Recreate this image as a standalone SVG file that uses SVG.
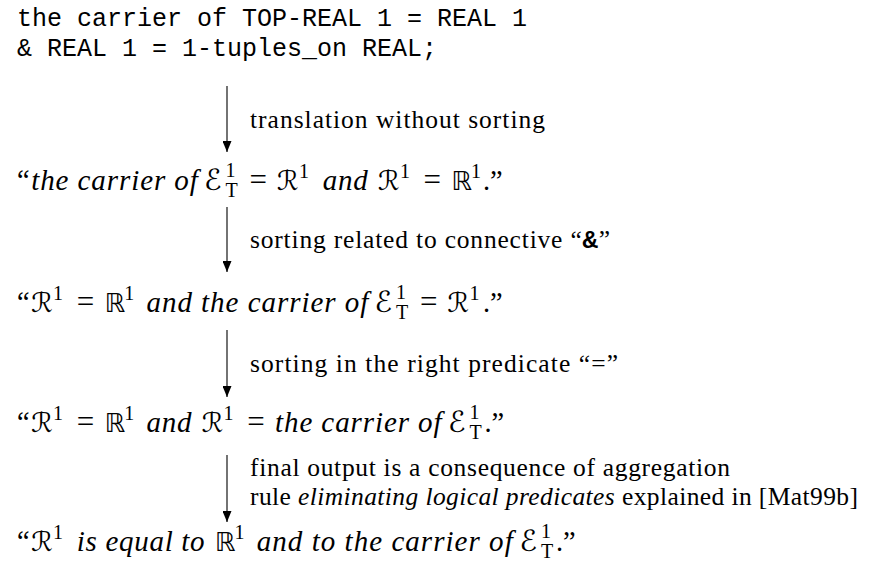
<svg xmlns="http://www.w3.org/2000/svg" width="874" height="569" viewBox="0 0 874 569">
<style>
.tt{font-family:"Liberation Mono",monospace;font-size:25px;fill:#000}
.rm{font-family:"Liberation Serif",serif;font-size:28.4px;fill:#000}
.it{font-family:"Liberation Serif",serif;font-size:29px;font-style:italic;fill:#000}
.eq{font-family:"Liberation Serif",serif;font-size:31px;fill:#000;text-anchor:middle}
.cal{font-family:"DejaVu Serif","DejaVu Sans",serif;font-size:27px;fill:#000}
.ce{font-family:"DejaVu Serif","DejaVu Sans",serif;font-size:29px;fill:#000}
.bb{font-family:"DejaVu Sans","DejaVu Serif",sans-serif;font-size:26px;fill:#000}
.sc{font-family:"Liberation Serif",serif;font-size:20px;fill:#000}
.lb{font-family:"Liberation Serif",serif;font-size:25.5px;fill:#000}
.lbi{font-style:italic}
.ln{stroke:#000;stroke-width:1.1;fill:none}
</style>
<defs>
<marker id="ah" markerUnits="userSpaceOnUse" viewBox="0 0 11 9" refX="11" refY="4.5" markerWidth="11" markerHeight="9" orient="auto">
<path d="M0,0 L11,4.5 L0,9 z" fill="#000"/>
</marker>
</defs>
<rect width="874" height="569" fill="#fff"/>
<g id="n1">
<text class="tt" x="17" y="26" textLength="510">the carrier of TOP-REAL 1 = REAL 1</text>
<text class="tt" x="17" y="56" textLength="420">&amp; REAL 1 = 1-tuples_on REAL;</text>
</g>
<g id="n2">
<text class="rm" x="17" y="190">“</text>
<text class="it" x="31.2" y="190" textLength="166.6">the carrier of</text>
<text class="ce" x="204" y="190">ℰ</text>
<text class="sc" x="225.5" y="177">1</text>
<text class="sc" x="225.5" y="197">T</text>
<text class="eq" x="258.2" y="190">=</text>
<text class="cal" x="277.1" y="190">ℛ</text>
<text class="sc" x="299" y="178">1</text>
<text class="it" x="322.7" y="190" textLength="45">and</text>
<text class="cal" x="377.9" y="190">ℛ</text>
<text class="sc" x="400" y="178">1</text>
<text class="eq" x="432.3" y="190">=</text>
<text class="bb" x="451.2" y="190">ℝ</text>
<text class="sc" x="471" y="178">1</text>
<text class="rm" x="483" y="190">.”</text>
</g>
<g id="n3">
<text class="rm" x="17" y="312">“</text>
<text class="cal" x="31.2" y="312">ℛ</text>
<text class="sc" x="53" y="300">1</text>
<text class="eq" x="85.6" y="312">=</text>
<text class="bb" x="104.5" y="312">ℝ</text>
<text class="sc" x="124.3" y="300">1</text>
<text class="it" x="146.5" y="312" textLength="221.8">and the carrier of</text>
<text class="ce" x="374.5" y="312">ℰ</text>
<text class="sc" x="396" y="299">1</text>
<text class="sc" x="396" y="319">T</text>
<text class="eq" x="428.7" y="312">=</text>
<text class="cal" x="447.6" y="312">ℛ</text>
<text class="sc" x="469.5" y="300">1</text>
<text class="rm" x="483" y="312">.”</text>
</g>
<g id="n4">
<text class="rm" x="17" y="432">“</text>
<text class="cal" x="31.2" y="432">ℛ</text>
<text class="sc" x="53" y="420">1</text>
<text class="eq" x="85.6" y="432">=</text>
<text class="bb" x="104.5" y="432">ℝ</text>
<text class="sc" x="124.3" y="420">1</text>
<text class="it" x="146.5" y="432" textLength="45">and</text>
<text class="cal" x="201.7" y="432">ℛ</text>
<text class="sc" x="223.6" y="420">1</text>
<text class="eq" x="256" y="432">=</text>
<text class="it" x="275" y="432" textLength="166.6">the carrier of</text>
<text class="ce" x="448" y="432">ℰ</text>
<text class="sc" x="469.5" y="419">1</text>
<text class="sc" x="469.5" y="439">T</text>
<text class="rm" x="484.5" y="432">.”</text>
</g>
<g id="n5">
<text class="rm" x="17" y="551">“</text>
<text class="cal" x="31.2" y="551">ℛ</text>
<text class="sc" x="53" y="539">1</text>
<text class="it" x="76.8" y="551" textLength="127.8">is equal to</text>
<text class="bb" x="214.8" y="551">ℝ</text>
<text class="sc" x="234.6" y="539">1</text>
<text class="it" x="256.8" y="551" textLength="255.9">and to the carrier of</text>
<text class="ce" x="519.5" y="551">ℰ</text>
<text class="sc" x="541" y="538">1</text>
<text class="sc" x="541" y="558">T</text>
<text class="rm" x="556" y="551">.”</text>
</g>
<g id="connectors">
<line class="ln" x1="227" y1="86" x2="227" y2="152" marker-end="url(#ah)"/>
<line class="ln" x1="227" y1="207" x2="227" y2="272" marker-end="url(#ah)"/>
<line class="ln" x1="227" y1="330" x2="227" y2="397" marker-end="url(#ah)"/>
<line class="ln" x1="227" y1="455" x2="227" y2="522" marker-end="url(#ah)"/>
<text class="lb" x="250" y="128" textLength="295">translation without sorting</text>
<text class="lb" x="250" y="248" textLength="360">sorting related to connective “<tspan font-family="Liberation Mono,monospace" font-weight="bold">&amp;</tspan>”</text>
<text class="lb" x="250" y="372" textLength="368">sorting in the right predicate “=”</text>
<text class="lb" x="250" y="476" textLength="480">final output is a consequence of aggregation</text>
<text class="lb" x="250" y="505" textLength="608">rule <tspan class="lbi">eliminating logical predicates</tspan> explained in [Mat99b]</text>
</g>
</svg>
